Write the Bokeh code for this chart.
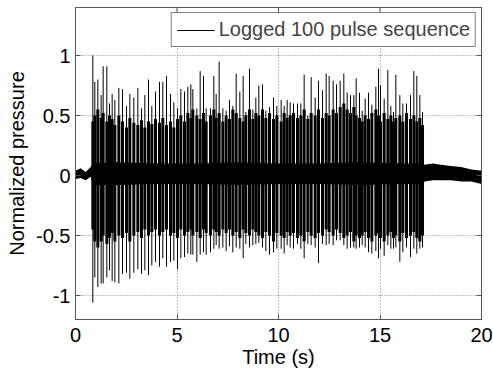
import math
from bokeh.plotting import figure
from bokeh.models import Range1d, FixedTicker, Legend, LegendItem
from bokeh.embed import file_html
from bokeh.resources import INLINE

# ---- data ----
pulse_t = [0.854, 0.952, 1.100, 1.264, 1.363, 1.544, 1.675, 1.806, 1.938, 2.135,
           2.315, 2.512, 2.677, 2.874, 3.071, 3.251, 3.415, 3.596, 3.760, 3.941,
           4.138, 4.302, 4.483, 4.680, 4.844, 5.025, 5.189, 5.369, 5.534, 5.681,
           5.780, 5.977, 6.141, 6.305, 6.437, 6.650, 6.814, 6.929, 7.077, 7.258,
           7.422, 7.586, 7.750, 7.915, 8.095, 8.259, 8.391, 8.571, 8.736, 8.883,
           9.031, 9.212, 9.376, 9.557, 9.754, 9.918, 10.131, 10.279, 10.427, 10.575,
           10.739, 10.936, 11.100, 11.264, 11.445, 11.609, 11.806, 11.970, 12.167, 12.348,
           12.496, 12.693, 12.857, 13.038, 13.218, 13.383, 13.547, 13.711, 13.826, 13.990,
           14.122, 14.269, 14.433, 14.598, 14.795, 14.926, 15.025, 15.205, 15.386, 15.534,
           15.665, 15.780, 15.977, 16.125, 16.305, 16.502, 16.667, 16.814, 16.962, 17.094]

pulse_hi = [1.00, 0.78, 0.80, 0.67, 0.91, 0.91, 0.60, 0.68, 0.63, 0.73,
            0.72, 0.58, 0.68, 0.65, 0.73, 0.56, 0.67, 0.80, 0.58, 0.70,
            0.78, 0.78, 0.83, 0.68, 0.61, 0.56, 0.72, 0.70, 0.74, 0.76,
            0.72, 0.56, 0.87, 0.83, 0.56, 0.56, 0.83, 0.68, 0.95, 0.56,
            0.54, 0.63, 0.58, 0.85, 0.70, 0.83, 0.53, 0.89, 0.55, 0.65,
            0.75, 0.76, 0.54, 0.57, 0.65, 0.58, 0.63, 0.58, 0.63, 0.61,
            0.60, 0.60, 0.60, 0.84, 0.50, 0.82, 0.65, 0.79, 0.71, 0.85,
            0.83, 0.79, 0.76, 0.79, 0.85, 0.69, 0.67, 0.67, 0.81, 0.69,
            0.54, 0.64, 0.69, 0.59, 0.74, 0.89, 0.75, 0.64, 0.88, 0.58,
            0.53, 0.84, 0.67, 0.60, 0.60, 0.67, 0.87, 0.83, 0.67, 0.53]

pulse_lo = [-1.06, -0.85, -0.93, -0.90, -0.90, -0.85, -0.79, -0.88, -0.89, -0.90,
            -0.82, -0.81, -0.86, -0.81, -0.78, -0.82, -0.79, -0.83, -0.75, -0.72,
            -0.76, -0.69, -0.76, -0.72, -0.71, -0.78, -0.69, -0.68, -0.65, -0.66,
            -0.66, -0.72, -0.66, -0.64, -0.66, -0.64, -0.61, -0.58, -0.61, -0.60,
            -0.63, -0.59, -0.64, -0.60, -0.61, -0.69, -0.57, -0.60, -0.58, -0.57,
            -0.56, -0.60, -0.63, -0.66, -0.64, -0.61, -0.61, -0.65, -0.58, -0.60,
            -0.61, -0.57, -0.61, -0.69, -0.57, -0.58, -0.60, -0.73, -0.57, -0.58,
            -0.57, -0.58, -0.54, -0.54, -0.58, -0.61, -0.60, -0.60, -0.61, -0.60,
            -0.58, -0.60, -0.64, -0.65, -0.63, -0.69, -0.61, -0.67, -0.58, -0.61,
            -0.61, -0.60, -0.72, -0.64, -0.60, -0.68, -0.61, -0.65, -0.61, -0.60]

# ringing that follows each pulse (extent of the dense black part)
ring_hi = [0.45, 0.50, 0.55, 0.48, 0.52, 0.45, 0.50, 0.47, 0.42, 0.50,
           0.45, 0.40, 0.48, 0.44, 0.42, 0.46, 0.40, 0.45, 0.43, 0.47,
           0.44, 0.48, 0.42, 0.45, 0.40, 0.47, 0.50, 0.45, 0.52, 0.48,
           0.55, 0.50, 0.47, 0.52, 0.45, 0.50, 0.55, 0.48, 0.52, 0.45,
           0.50, 0.47, 0.55, 0.52, 0.48, 0.45, 0.50, 0.55, 0.47, 0.52,
           0.50, 0.55, 0.48, 0.52, 0.47, 0.50, 0.45, 0.52, 0.48, 0.50,
           0.52, 0.48, 0.50, 0.55, 0.47, 0.52, 0.50, 0.55, 0.48, 0.52,
           0.50, 0.55, 0.52, 0.57, 0.60, 0.55, 0.52, 0.57, 0.50, 0.48,
           0.45, 0.50, 0.47, 0.52, 0.55, 0.50, 0.45, 0.52, 0.47, 0.50,
           0.45, 0.48, 0.50, 0.45, 0.52, 0.47, 0.50, 0.45, 0.48, 0.42]

ring_lo = [-0.45, -0.55, -0.60, -0.55, -0.50, -0.57, -0.52, -0.48, -0.55, -0.50,
           -0.52, -0.48, -0.55, -0.50, -0.47, -0.52, -0.45, -0.50, -0.47, -0.45,
           -0.50, -0.47, -0.45, -0.50, -0.48, -0.52, -0.45, -0.50, -0.47, -0.45,
           -0.50, -0.47, -0.52, -0.45, -0.48, -0.50, -0.45, -0.47, -0.50, -0.45,
           -0.48, -0.45, -0.50, -0.47, -0.52, -0.45, -0.48, -0.50, -0.45, -0.47,
           -0.50, -0.52, -0.47, -0.50, -0.55, -0.48, -0.50, -0.52, -0.47, -0.50,
           -0.48, -0.52, -0.50, -0.55, -0.47, -0.50, -0.52, -0.48, -0.50, -0.45,
           -0.47, -0.50, -0.45, -0.48, -0.52, -0.50, -0.47, -0.55, -0.50, -0.52,
           -0.50, -0.47, -0.52, -0.55, -0.50, -0.48, -0.52, -0.55, -0.50, -0.47,
           -0.52, -0.50, -0.55, -0.48, -0.52, -0.50, -0.47, -0.52, -0.55, -0.50]

# background noise / solid core around zero
core_t = [0, 0.25, 0.5, 0.75, 0.85, 2, 4, 6, 8, 10, 12, 14, 16, 17.1, 17.2, 17.6, 18, 18.5, 19, 19.5, 20]
core_hi = [0.04, 0.06, 0.03, 0.07, 0.10, 0.11, 0.10, 0.10, 0.11, 0.10, 0.10, 0.11, 0.10, 0.10, 0.09, 0.10, 0.09, 0.08, 0.07, 0.05, 0.04]
core_lo = [-0.03, -0.02, -0.04, -0.01, -0.08, -0.08, -0.07, -0.07, -0.08, -0.07, -0.07, -0.08, -0.07, -0.07, -0.05, -0.04, -0.04, -0.04, -0.05, -0.05, -0.07]

x_ticks = [0, 5, 10, 15, 20]
y_ticks = [-1, -0.5, 0, 0.5, 1]
y_tick_labels = ["-1", "-0.5", "0", "0.5", "1"]
X_MIN, X_MAX, Y_MIN, Y_MAX = 0, 20, -1.2, 1.4

FONT = "Liberation Sans"
AX = "#555555"

p = figure(width=493, height=370, output_backend="svg", toolbar_location=None,
           x_range=Range1d(X_MIN, X_MAX), y_range=Range1d(Y_MIN, Y_MAX),
           min_border_left=75, min_border_right=12, min_border_top=7, min_border_bottom=50)
p.background_fill_color = "white"
p.border_fill_color = "white"
p.outline_line_color = AX

p.varea(x=core_t, y1=core_lo, y2=core_hi, fill_color="black")
p.segment(x0=pulse_t, y0=ring_lo, x1=pulse_t, y1=ring_hi, line_color="black", line_width=3)
spikes = p.segment(x0=pulse_t, y0=pulse_lo, x1=pulse_t, y1=pulse_hi, line_color="black", line_width=1)

for ax in (p.xaxis[0], p.yaxis[0]):
    ax.major_tick_in = 5
    ax.major_tick_out = 0
    ax.minor_tick_line_color = None
    ax.axis_line_color = AX
    ax.major_tick_line_color = AX
    ax.major_label_text_font = FONT
    ax.major_label_text_font_size = "20px"
    ax.major_label_text_color = "black"
    ax.axis_label_text_font = FONT
    ax.axis_label_text_font_size = "20px"
    ax.axis_label_text_font_style = "normal"
    ax.axis_label_text_color = "black"

p.xaxis.ticker = FixedTicker(ticks=x_ticks)
p.yaxis.ticker = FixedTicker(ticks=y_ticks)
p.yaxis.major_label_overrides = {v: s for v, s in zip(y_ticks, y_tick_labels)}
p.xaxis.axis_label = "Time (s)"
p.yaxis.axis_label = "Normalized pressure"
p.xaxis.major_label_standoff = 8
p.xaxis.axis_label_standoff = 1
p.yaxis.major_label_standoff = 5
p.yaxis.axis_label_standoff = 5

# inward ticks on the top and right edges of the box
p.ray(x=x_ticks, y=Y_MAX, length=5, length_units="screen", angle=-math.pi / 2,
      line_color=AX, line_width=1)
p.ray(x=X_MAX, y=y_ticks, length=5, length_units="screen", angle=math.pi,
      line_color=AX, line_width=1)

p.xgrid.ticker = FixedTicker(ticks=x_ticks)
p.ygrid.ticker = FixedTicker(ticks=y_ticks)
for g in (p.xgrid[0], p.ygrid[0]):
    g.grid_line_color = "#808080"
    g.grid_line_dash = "1 2"
    g.grid_line_width = 1

legend = Legend(items=[LegendItem(label="Logged 100 pulse sequence", renderers=[spikes])],
                location="top_right", margin=5, padding=5, spacing=0,
                glyph_width=38, glyph_height=20, label_height=20, label_standoff=4,
                label_text_font=FONT, label_text_font_size="20px",
                border_line_color="black", border_line_width=1,
                background_fill_color="white", background_fill_alpha=1.0)
p.add_layout(legend)

open("out.html", "w").write(file_html(p, INLINE))
